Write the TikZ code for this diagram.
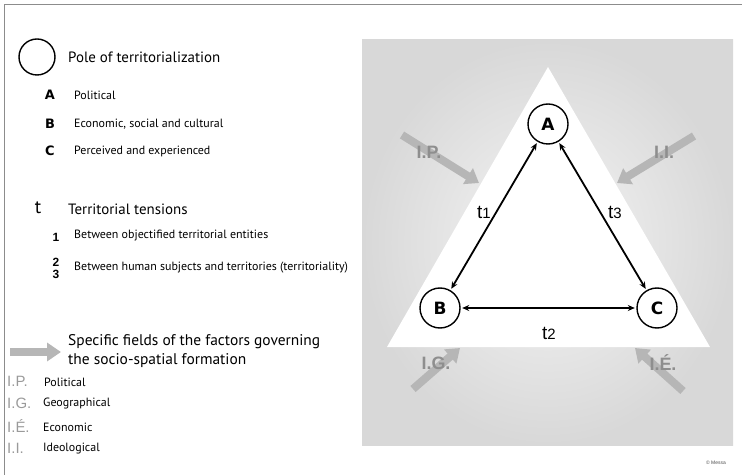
\documentclass[tikz,border=0pt]{standalone}
\usepackage{fontspec}
\setmainfont{PT Sans}
\newfontfamily\arialfont{Liberation Sans}
\newfontfamily\heavyfont{DejaVu Sans}
\usepackage{xcolor}
\usepackage{tikz}
\usetikzlibrary{arrows.meta,positioning,calc}
\definecolor{framegray}{HTML}{8C8C8C}
\definecolor{fieldgray}{HTML}{B6B6B6}
\definecolor{fieldtext}{HTML}{8E8E8E}
\definecolor{keygray}{HTML}{9A9A9A}
\definecolor{panelgray}{HTML}{D8D8D8}

\begin{document}
\begin{tikzpicture}[x = 1bp, y = -1bp,
    pole/.style = {circle, draw, line width = 1.4bp, fill = white, minimum size = 40bp, inner sep = 0pt,
                   font = \heavyfont\bfseries\fontsize{17}{17}\selectfont},
    tensarrow/.style = {<->, >={Stealth[length=7bp, width=6bp]}, line width = 1.8bp, shorten <= 1.5bp, shorten >= 1.5bp},
    field/.style = {draw = fieldgray, line width = 8bp, -{Triangle[length=13bp, width=18bp]}},
    fieldlabel/.style = {text = fieldtext, font = \arialfont\bfseries\fontsize{18}{18}\selectfont},
    tlabel/.style = {font = \arialfont\fontsize{19}{19}\selectfont},
    bigtext/.style = {anchor = west, inner sep = 0pt, font = \fontsize{15}{18}\selectfont, align = left},
    smalltext/.style = {anchor = west, inner sep = 0pt, font = \fontsize{12}{13}\selectfont},
    key/.style = {inner sep = 0pt, font = \heavyfont\bfseries\fontsize{13}{13}\selectfont},
    graykey/.style = {anchor = west, inner sep = 0pt, text = keygray, font = \arialfont\fontsize{15}{15}\selectfont}]
    \useasboundingbox (0,0) rectangle (743,475);
    \draw[framegray, line width = 1bp] (4,475) -- (4,5) -- (742,5);

    % panel with the triangle
    \shade[inner color = white!96!black, outer color = panelgray] (362,40) rectangle (733,445);
    \fill[white] (548,67) -- (387,347) -- (710,347) -- cycle;

    \node[pole] (a) at (548,124) {A};
    \node[pole] (b) at (440,308) {B};
    \node[pole] (c) at (657,308) {C};
    \draw[tensarrow] (a) -- (b);
    \draw[tensarrow] (b) -- (c);
    \draw[tensarrow] (a) -- (c);
    \node[tlabel] (t1) at (484,212) {t{\fontsize{15}{15}\selectfont 1}};
    \node[tlabel] (t3) at (615,212) {t{\fontsize{15}{15}\selectfont 3}};
    \node[tlabel] (t2) at (549,333) {t{\fontsize{15}{15}\selectfont 2}};

    % fields of factors
    \coordinate (ip0) at (402,135);  \coordinate (ip1) at (479,183);
    \coordinate (ii0) at (694,136);  \coordinate (ii1) at (617,183);
    \coordinate (ig0) at (413,389);  \coordinate (ig1) at (460,348);
    \coordinate (ie0) at (683,391);  \coordinate (ie1) at (635,348);
    \draw[field] (ip0) -- (ip1);
    \draw[field] (ii0) -- (ii1);
    \draw[field] (ig0) -- (ig1);
    \draw[field] (ie0) -- (ie1);
    \node[fieldlabel] (ip) at (429,152) {I.P.};
    \node[fieldlabel] (ii) at (664,152) {I.I.};
    \node[fieldlabel] (ig) at (436,363) {I.G.};
    \node[fieldlabel] (ie) at (663,363) {I.É.};
    \node[font = \arialfont\fontsize{5}{5}\selectfont, text = black!70] (credit) at (716,463) {© Messa};

    % legend
    \draw[line width = 1.4bp] (37,57) circle (18bp);
    \node[bigtext] (pole) at (68,57) {Pole of territorialization};
    \node[key] (ka) at (50,95) {A};
    \node[smalltext] (pa) at (74,95) {Political};
    \node[key] (kb) at (50,124) {B};
    \node[smalltext] (pb) at (74,124) {Economic, social and cultural};
    \node[key] (kc) at (50,151) {C};
    \node[smalltext] (pc) at (74,151) {Perceived and experienced};

    \node[font = \fontsize{19}{19}\selectfont, inner sep = 0pt] (kt) at (38,208) {t};
    \node[bigtext] (tens) at (68,209) {Territorial tensions};
    \node[key, font = \arialfont\bfseries\fontsize{12}{12}\selectfont] (k1) at (56,237) {1};
    \node[smalltext] (t1txt) at (74,236) {Between objectified territorial entities};
    \node[key, font = \arialfont\bfseries\fontsize{12}{12}\selectfont] (k2) at (56,262) {2};
    \node[key, font = \arialfont\bfseries\fontsize{12}{12}\selectfont] (k3) at (56,274) {3};
    \node[smalltext] (t23txt) at (74,268) {Between human subjects and territories (territoriality)};

    \coordinate (leg0) at (10,352);  \coordinate (leg1) at (61,352);
    \draw[field, line width = 8bp, -{Triangle[length=14bp, width=18bp]}] (leg0) -- (leg1);
    \node[bigtext, font = \fontsize{15.5}{18.5}\selectfont] (fields) at (68,351) {Specific fields of the factors governing\\the socio-spatial formation};
    \node[graykey] (kip) at (7,381) {I.P.};
    \node[smalltext] (lip) at (44,382) {Political};
    \node[graykey] (kig) at (7,403) {I.G.};
    \node[smalltext] (lig) at (43,404) {Geographical};
    \node[graykey] (kie) at (7,426) {I.É.};
    \node[smalltext] (lie) at (43,427) {Economic};
    \node[graykey] (kii) at (7,448) {I.I.};
    \node[smalltext] (lii) at (43,449) {Ideological};
\end{tikzpicture}
\end{document}
